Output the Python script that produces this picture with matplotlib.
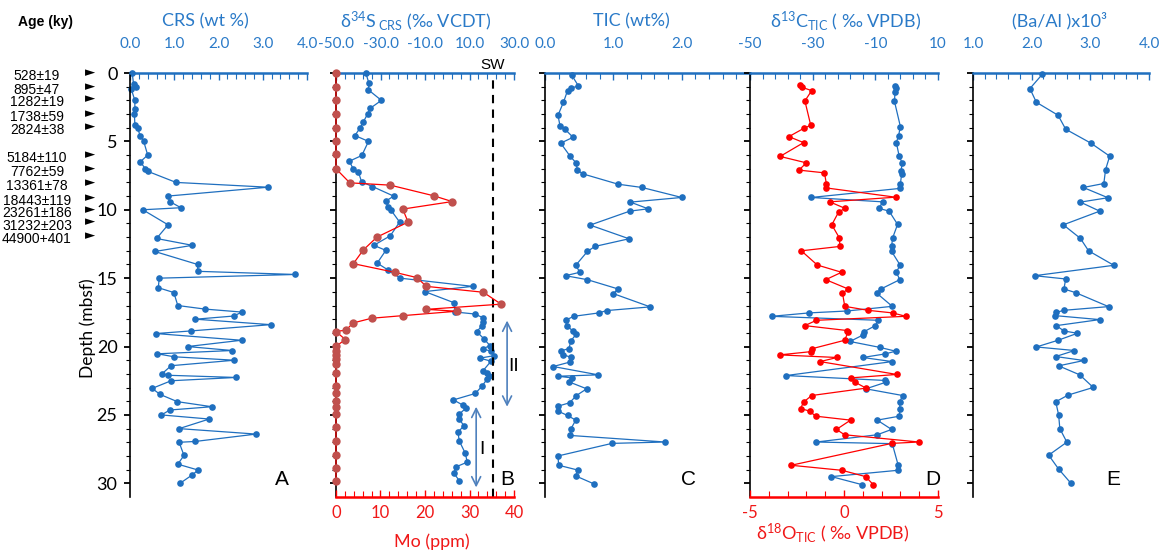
import matplotlib.pyplot as plt
import matplotlib.transforms as mtransforms
import numpy as np

plt.rcParams['font.family'] = ['Lato', 'DejaVu Sans']
plt.rcParams['mathtext.fontset'] = 'custom'
plt.rcParams['mathtext.rm'] = 'Lato'
plt.rcParams['mathtext.it'] = 'Lato:italic'
plt.rcParams['mathtext.bf'] = 'Lato:bold'

BLUE = '#1f6fbf'
TXT_BLUE = '#2a7ac8'
RED = '#ff0000'
TXT_RED = '#f01818'
MO_RED = '#c0504d'
ARROW_BLUE = '#4f81bd'
LABEL_FONT = ['Lato', 'DejaVu Sans']
ARIAL = ['Liberation Sans', 'DejaVu Sans']

# --- data ---
age_labels = ['528±19', '895±47', '1282±19', '1738±59', '2824±38', '5184±110',
              '7762±59', '13361±78', '18443±119', '23261±186', '31232±203', '44900+401']
age_depth = [0, 1.0, 1.9, 3.0, 3.95, 6.0, 7.0, 8.0, 9.1, 10.0, 10.9, 11.9]

crs_depth = [0, 0.8, 1.0, 1.2, 2.0, 2.6, 3.0, 3.8, 4.0, 4.6, 5.0, 6.0, 6.5, 7.0, 7.2,
             8.0, 8.35, 9.0, 9.4, 9.85, 10.0, 11.1, 12.1, 12.6, 13.05, 14.0, 14.5, 14.73,
             15.0, 15.7, 16.05, 17.0, 17.26, 17.48, 17.77, 18.0, 18.4, 18.86, 19.05, 19.54,
             20.0, 20.29, 20.53, 20.75, 21.0, 21.4, 22.0, 22.1, 22.26, 22.5, 23.06, 23.5,
             24.03, 24.4, 24.64, 25.0, 25.3, 26.0, 26.4, 26.94, 27.0, 27.96, 28.6, 29.03,
             29.4, 30.0]
crs = [0.05, 0.08, 0.14, 0.03, 0.11, 0.11, 0.10, 0.11, 0.17, 0.23, 0.31, 0.40, 0.23,
       0.35, 0.41, 1.04, 3.12, 0.85, 0.90, 1.15, 0.29, 0.86, 0.60, 1.41, 0.56, 1.53, 1.53,
       3.74, 0.66, 0.64, 0.99, 1.08, 1.69, 2.53, 2.34, 1.48, 3.18, 1.37, 0.59, 2.52, 1.30,
       2.31, 0.62, 1.00, 2.36, 0.93, 0.72, 0.86, 2.40, 0.93, 0.50, 0.68, 1.07, 1.85, 0.90,
       0.71, 1.79, 1.11, 2.85, 1.47, 1.11, 1.22, 1.08, 1.54, 1.40, 1.13]

s34_depth = [0, 0.75, 1.24, 2.0, 2.58, 3.0, 3.6, 4.0, 4.57, 5.0, 6.03, 6.45, 7.0, 7.25,
             7.96, 8.3, 9.0, 9.37, 9.8, 10.0, 10.9, 11.9, 12.6, 12.97, 13.9, 14.38, 15.0,
             15.6, 15.98, 16.8, 17.47, 17.62, 17.9, 18.2, 18.5, 18.9, 19.44, 19.93, 20.17,
             20.34, 20.66, 20.85, 21.07, 21.8, 21.97, 22.17, 22.36, 22.9, 23.43, 23.9, 24.3,
             24.5, 24.94, 25.3, 25.8, 26.25, 26.9, 27.8, 28.45, 28.8, 29.27, 29.8]
s34 = [-36.6, -35.2, -35.4, -29.6, -34.6, -35.8, -37.8, -39.1, -41.5, -35.4, -38.4, -44.0,
       -42.3, -39.9, -38.5, -33.6, -24.1, -27.6, -26.5, -25.4, -21.4, -25.6, -33.0, -27.6,
       -31.5, -26.8, -21.1, 11.4, -10.1, 3.1, 3.4, 12.3, 16.2, 15.9, 15.6, 13.2, 16.5, 19.2,
       15.9, 19.7, 21.2, 14.7, 19.7, 15.9, 17.7, 18.9, 18.0, 15.6, 12.6, 2.8, 7.2, 8.4, 5.4,
       5.4, 7.5, 4.8, 5.4, 8.1, 9.0, 3.9, 3.0, 5.4]

mo_depth = [0, 1.05, 2.0, 3.0, 4.0, 5.0, 5.9, 7.0, 8.03, 8.2, 8.98, 9.4, 9.95, 10.9, 12.0,
            12.95, 13.94, 14.58, 14.96, 15.6, 16.03, 16.9, 17.28, 17.42, 17.74, 17.93,
            18.27, 18.8, 18.9, 19.49, 19.98, 20.3, 20.6, 20.9, 21.3, 21.9, 22.9, 23.4, 24.0,
            24.4, 24.96, 25.9, 26.9, 27.9, 28.9, 29.8]
mo = [0, 0, 0, 0, 0, 0, 0, 0, 3.1, 12.2, 22.0, 26.1, 15.0, 16.2, 9.2, 6.1, 3.9, 13.3, 18.2,
      20.3, 33.1, 37.1, 20.3, 27.1, 15.0, 8.0, 3.9, 2.2, 0, 2.1, 0, 0, 0, 0, 0, 0, 0, 0, 0,
      0, 0, 0, 0, 0, 0, 0]
sw_d34s = 20.5

tic_depth = [0.15, 0.95, 1.1, 1.29, 2.14, 3.09, 3.87, 4.1, 4.7, 5.13, 6.1, 6.6, 7.08, 7.37,
             8.13, 8.37, 9.1, 9.44, 9.93, 10.1, 11.12, 12.12, 12.68, 13.05, 14.06, 14.57,
             14.82, 15.11, 15.79, 16.13, 17.1, 17.37, 17.54, 17.79, 18.08, 18.47, 18.88,
             19.08, 19.57, 20.15, 20.32, 20.61, 20.78, 21.14, 21.46, 22.07, 22.17, 22.29,
             22.58, 23.09, 23.58, 24.11, 24.36, 24.72, 25.04, 25.38, 26.01, 26.5, 26.98,
             27.08, 28.0, 28.68, 29.03, 29.46, 30.05]
tic = [0.39, 0.49, 0.38, 0.33, 0.27, 0.19, 0.22, 0.29, 0.41, 0.23, 0.37, 0.46, 0.47, 0.55,
       1.07, 1.42, 2.0, 1.25, 1.51, 1.24, 0.66, 1.23, 0.73, 0.62, 0.45, 0.51, 0.30, 0.62,
       1.07, 1.0, 1.54, 0.9, 0.79, 0.42, 0.30, 0.32, 0.41, 0.46, 0.38, 0.35, 0.23, 0.27,
       0.38, 0.36, 0.12, 0.78, 0.19, 0.39, 0.35, 0.61, 0.46, 0.36, 0.19, 0.19, 0.33, 0.45,
       0.38, 0.37, 1.76, 0.98, 0.19, 0.20, 0.48, 0.45, 0.72]

c13_depth = [0.95, 1.12, 1.36, 2.07, 3.92, 4.6, 5.09, 6.06, 6.6, 7.13, 7.37, 8.1, 8.44,
             9.1, 9.42, 9.9, 10.1, 11.07, 12.07, 12.68, 13.05, 14.04, 14.57, 15.11, 15.79,
             16.09, 17.06, 17.4, 17.54, 17.79, 18.08, 18.47, 18.9, 19.15, 19.63, 20.06,
             20.34, 20.54, 20.8, 21.1, 22.12, 22.48, 22.6, 23.09, 23.58, 24.06, 24.55,
             25.09, 25.38, 26.06, 26.45, 26.98, 27.1, 28.68, 29.05, 29.51, 30.1]
c13 = [-3.7, -3.5, -3.7, -3.9, -2.0, -2.6, -3.3, -2.4, -1.4, -1.8, -1.6, -2.0, -2.2, -30.5,
       -7.7, -8.8, -5.6, -2.9, -4.5, -4.8, -4.8, -2.1, -3.3, -2.2, -8.2, -9.6, -4.6, -19.0,
       -31.1, -43.1, -9.0, -10.0, -13.5, -13.9, -18.1, -8.6, -3.5, -6.9, -14.0, -4.6, -38.5,
       -6.8, -6.5, -13.0, -1.3, -2.2, -2.2, -2.3, -9.4, -4.8, -9.4, -28.8, -4.6, -2.7,
       -2.9, -24.0, -14.2]

o18_depth = [0.9, 1.05, 1.29, 2.04, 3.82, 4.04, 4.65, 5.09, 6.1, 6.57, 7.1, 7.3, 8.08, 8.4,
             9.08, 9.42, 9.9, 10.15, 11.1, 12.07, 12.68, 13.0, 14.04, 14.57, 15.11, 15.79,
             16.09, 17.06, 17.35, 17.54, 17.79, 18.08, 18.47, 18.83, 18.9, 19.54, 20.15,
             20.37, 20.61, 20.8, 21.1, 22.04, 22.29, 22.6, 23.04, 23.58, 24.06, 24.53,
             24.72, 25.09, 25.38, 26.06, 26.45, 26.98, 27.08, 28.68, 29.05, 29.51, 30.1]
o18 = [-2.34, -2.22, -1.72, -2.08, -1.77, -2.13, -2.93, -2.15, -3.40, -2.0, -2.40, -1.04,
       -0.94, -0.96, 2.74, -0.76, 0.06, -0.28, -0.65, -0.24, -0.22, -2.27, -1.42, -0.13,
       -0.97, 0.22, -0.08, 0.04, 1.27, 2.58, 3.29, -1.47, -2.08, 0.17, 0.22, 0.04, -1.68,
       -1.74, -3.43, -0.37, -1.27, 2.81, 0.37, 0.58, 1.17, -1.72, -2.15, -2.31, -1.83,
       -1.51, 0.35, -0.40, 0.03, 3.98, 2.54, -2.81, -0.10, 1.15, 1.56]

ba_depth = [0.1, 1.14, 2.14, 3.09, 4.11, 5.13, 6.08, 7.06, 8.08, 8.37, 9.12, 9.44, 10.1,
            11.1, 12.09, 13.0, 14.06, 14.82, 15.06, 15.79, 16.06, 17.08, 17.35, 17.5, 17.74,
            18.03, 18.47, 18.86, 19.03, 19.54, 20.03, 20.29, 20.73, 21.02, 21.41, 22.07,
            22.99, 23.55, 24.04, 25.0, 26.0, 26.99, 27.94, 28.96, 30.0]
ba_al = [2.18, 1.97, 2.08, 2.45, 2.58, 3.01, 3.33, 3.26, 3.23, 2.88, 3.30, 2.83, 3.16, 2.54,
         2.83, 2.97, 3.40, 2.05, 2.58, 2.55, 2.75, 3.31, 2.55, 2.42, 2.40, 3.16, 2.42, 2.55,
         2.78, 2.45, 2.08, 2.73, 2.41, 2.89, 2.46, 2.82, 3.05, 2.62, 2.41, 2.46, 2.48, 2.60,
         2.29, 2.46, 2.67]

# interval arrows in panel B: (x in d34S units, top depth, bottom depth, label)
intervals = [(26.9, 18.1, 24.4, 'II'), (13.0, 24.4, 30.3, 'I')]

# --- layout ---
W, H = 1164, 554
fig = plt.figure(figsize=(W / 100, H / 100), dpi=100)
Y_TOP, Y_BOT = 73, 497


def add_panel(x0, x1):
    return fig.add_axes([x0 / W, (H - Y_BOT) / H, (x1 - x0) / W, (Y_BOT - Y_TOP) / H])


def depth_axis(ax, show_labels=False):
    ax.set_ylim(31, 0)
    ax.set_yticks(np.arange(0, 31, 5))
    ax.set_yticks(np.arange(0, 31, 1), minor=True)
    ax.tick_params(axis='y', which='major', direction='out', length=4, width=1.3,
                   labelsize=13, labelleft=show_labels, pad=5)
    ax.tick_params(axis='y', which='minor', direction='out', length=3, width=0.8)
    ax.spines['left'].set_linewidth(1.2)
    ax.spines['right'].set_visible(False)
    ax.spines['bottom'].set_visible(False)
    ax.patch.set_visible(False)


def top_axis(ax, lo, hi, majors, minor_step, fmt):
    ax.set_xlim(lo, hi)
    ax.xaxis.tick_top()
    ax.set_xticks(majors)
    ax.set_xticks(np.arange(lo, hi + minor_step / 2, minor_step), minor=True)
    ax.set_xticklabels([fmt.format(v) for v in majors])
    ax.tick_params(axis='x', which='both', direction='in', colors=BLUE,
                   labelcolor=TXT_BLUE, labelsize=11, pad=16)
    ax.tick_params(axis='x', which='major', length=5, width=1)
    ax.tick_params(axis='x', which='minor', length=4, width=0.8)
    ax.spines['top'].set_color(BLUE)
    ax.spines['top'].set_linewidth(1.8)


def bottom_axis(ax, lo, hi, majors, minor_step, fmt):
    ax.set_xlim(lo, hi)
    ax.xaxis.tick_bottom()
    ax.set_xticks(majors)
    ax.set_xticks(np.arange(lo, hi + minor_step / 2, minor_step), minor=True)
    ax.set_xticklabels([fmt.format(v) for v in majors])
    ax.tick_params(axis='x', which='both', direction='in', colors=RED,
                   labelcolor=TXT_RED, labelsize=12, pad=6)
    ax.tick_params(axis='x', which='major', length=5, width=1)
    ax.tick_params(axis='x', which='minor', length=4, width=0.8)
    for s in ['top', 'left', 'right']:
        ax.spines[s].set_visible(False)
    ax.spines['bottom'].set_color(RED)
    ax.spines['bottom'].set_linewidth(1.8)


def panel_letter(ax, xfrac, letter):
    ax.text(xfrac, 0.042, letter, transform=ax.transAxes, fontsize=15,
            family=ARIAL, ha='center', va='center')


line_kw = dict(lw=0.9, marker='o', ms=4.8, mew=0)

# Panel A - CRS
ax_a = add_panel(130, 307)
top_axis(ax_a, 0, 4, [0, 1, 2, 3, 4], 0.2, '{:.1f}')
depth_axis(ax_a, show_labels=True)
ax_a.plot(crs, crs_depth, color=BLUE, clip_on=False, **line_kw)
panel_letter(ax_a, 0.859, 'A')

# Panel B - d34S (top) and Mo (bottom)
ax_b = add_panel(336, 514)
ax_b2 = ax_b.twiny()
top_axis(ax_b, -50, 30, [-50, -30, -10, 10, 30], 4, '{:.1f}')
depth_axis(ax_b)
bottom_axis(ax_b2, 0, 40, [0, 10, 20, 30, 40], 2, '{:.0f}')
ax_b.plot(s34, s34_depth, color=BLUE, clip_on=False, **line_kw)
ax_b2.plot(mo, mo_depth, color=RED, lw=0.9, marker='o', ms=6, mew=0, mfc=MO_RED,
           clip_on=False)
ax_b.axvline(sw_d34s, color='black', ls=(0, (4, 3)), lw=1.5)
ax_b.text(sw_d34s, -0.05, 'SW', ha='center', va='bottom', fontsize=11, family=ARIAL)
for x, d_top, d_bot, lab in intervals:
    ax_b.annotate('', xy=(x, d_top), xytext=(x, d_bot),
                  arrowprops=dict(arrowstyle='<->', color=ARROW_BLUE, lw=1.2,
                                  mutation_scale=16, shrinkA=0, shrinkB=0))
    ax_b.text(x + 2.8, (d_top + d_bot) / 2 + 0.2, lab, ha='center', va='center',
              fontsize=14, family=ARIAL)
panel_letter(ax_b, 0.961, 'B')

# Panel C - TIC
ax_c = add_panel(545, 750)
top_axis(ax_c, 0, 3, [0, 1, 2], 0.2, '{:.1f}')
depth_axis(ax_c)
ax_c.plot(tic, tic_depth, color=BLUE, clip_on=False, **line_kw)
panel_letter(ax_c, 0.702, 'C')

# Panel D - d13C (top) and d18O (bottom)
ax_d = add_panel(750, 938)
ax_d2 = ax_d.twiny()
top_axis(ax_d, -50, 10, [-50, -30, -10, 10], 4, '{:.0f}')
depth_axis(ax_d)
bottom_axis(ax_d2, -5, 5, [-5, 0, 5], 1, '{:.0f}')
ax_d.plot(c13, c13_depth, color=BLUE, clip_on=False, **line_kw)
ax_d2.plot(o18, o18_depth, color=RED, clip_on=False, **line_kw)
panel_letter(ax_d, 0.973, 'D')

# Panel E - Ba/Al
ax_e = add_panel(973, 1149)
top_axis(ax_e, 1, 4, [1, 2, 3, 4], 0.2, '{:.1f}')
depth_axis(ax_e)
ax_e.plot(ba_al, ba_depth, color=BLUE, clip_on=False, **line_kw)
panel_letter(ax_e, 0.795, 'E')

# axis titles
title_y = 1 - 21 / H
titles = [(205, 'CRS (wt %)'),
          (416, r'δ$^{34}$S$_{\ \mathrm{CRS}}$ (‰ VCDT)'),
          (631, 'TIC (wt%)'),
          (846, r'δ$^{13}$C$_{\mathrm{TIC}}$ ( ‰ VPDB)'),
          (1059, '(Ba/Al )x10³')]
for xc, t in titles:
    fig.text(xc / W, title_y, t, ha='center', va='center', color=TXT_BLUE,
             fontsize=13, family=LABEL_FONT)
fig.text(432 / W, 1 - 542 / H, 'Mo (ppm)', ha='center', va='center', color=TXT_RED,
         fontsize=13, family=LABEL_FONT)
fig.text(833 / W, 1 - 533 / H, r'δ$^{18}$O$_{\mathrm{TIC}}$ ( ‰ VPDB)', ha='center',
         va='center', color=TXT_RED, fontsize=13, family=LABEL_FONT)
fig.text(88 / W, 1 - 328 / H, 'Depth (mbsf)', rotation=90, ha='center', va='center',
         fontsize=12.5, family=LABEL_FONT)

# ages
fig.text(45 / W, 1 - 22 / H, 'Age (ky)', ha='center', va='center', fontsize=10,
         fontweight='bold', family=ARIAL)
trans = mtransforms.blended_transform_factory(fig.transFigure, ax_a.transData)
for lab, d in zip(age_labels, age_depth):
    ax_a.text(37 / W, d + 0.25, lab, transform=trans, ha='center', va='center',
              fontsize=10, family=ARIAL, clip_on=False)
    ax_a.text(90 / W, d, '►', transform=trans, ha='center', va='center',
              fontsize=9.5, family=['DejaVu Sans'], clip_on=False)

fig.savefig('out.png', dpi=100)
